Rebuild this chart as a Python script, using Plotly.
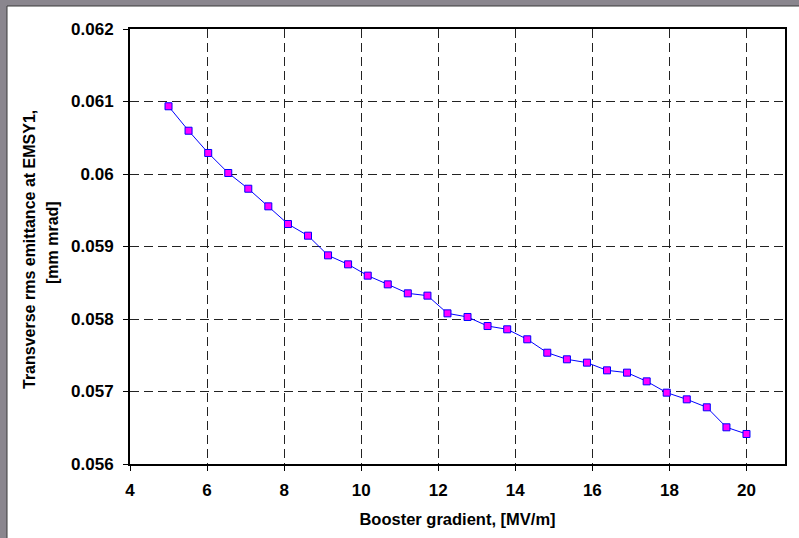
import plotly.graph_objects as go

gradient = [5.0, 5.52, 6.03, 6.55, 7.07, 7.59, 8.10, 8.62, 9.14, 9.66,
            10.17, 10.69, 11.21, 11.72, 12.24, 12.76, 13.28, 13.79, 14.31, 14.83,
            15.34, 15.86, 16.38, 16.90, 17.41, 17.93, 18.45, 18.97, 19.48, 20.0]
emittance = [0.060934, 0.060597, 0.060290, 0.060014, 0.059797, 0.059554, 0.059310, 0.059149, 0.058878, 0.058754,
             0.058598, 0.058478, 0.058354, 0.058322, 0.058078, 0.058028, 0.057903, 0.057858, 0.057720, 0.057535,
             0.057444, 0.057398, 0.057292, 0.057260, 0.057140, 0.056984, 0.056892, 0.056782, 0.056506, 0.056414]

x_ticks = [4, 6, 8, 10, 12, 14, 16, 18, 20]
y_ticks = [0.056, 0.057, 0.058, 0.059, 0.060, 0.061, 0.062]
y_tick_text = ["0.056", "0.057", "0.058", "0.059", "0.06", "0.061", "0.062"]

FONT = "Liberation Sans, Arial, sans-serif"

fig = go.Figure()
fig.add_trace(go.Scatter(
    x=gradient, y=emittance, mode="lines+markers",
    line=dict(color="#0000ff", width=1),
    marker=dict(symbol="square", size=7, color="#ff00ff",
                line=dict(color="#0000ff", width=1)),
    showlegend=False,
))

W, H = 799, 538
L, R, T, B = 130, 14, 29, 74
pw, ph = W - L - R, H - T - B

def px_x(p):
    return (p - L) / pw

def px_y(p):
    return (H - B - p) / ph

fig.add_shape(type="rect", xref="paper", yref="paper",
              x0=px_x(7), x1=px_x(W + 5), y0=px_y(6), y1=px_y(H + 5),
              fillcolor="white", line=dict(color="#3a3a3a", width=1), layer="below")

fig.update_layout(
    width=W, height=H,
    margin=dict(l=L, r=R, t=T, b=B, autoexpand=False),
    paper_bgcolor="#8a868e",
    plot_bgcolor="white",
    font=dict(family=FONT, color="black"),
)
fig.update_xaxes(
    range=[4, 21], tickvals=x_ticks, ticktext=[str(v) for v in x_ticks],
    showline=True, linecolor="black", linewidth=2, mirror=True,
    ticks="outside", ticklen=5, tickcolor="black", tickwidth=1,
    showgrid=True, gridcolor="#222222", gridwidth=1, griddash="9px,5px",
    zeroline=False, automargin=False,
    tickfont=dict(size=17, family=FONT, weight="bold"),
    ticklabelstandoff=5,
    title=dict(text="<b>Booster gradient, [MV/m]</b>", font=dict(size=16.5, family=FONT), standoff=14),
)
fig.update_yaxes(
    range=[0.056, 0.062], tickvals=y_ticks, ticktext=y_tick_text,
    showline=True, linecolor="black", linewidth=2, mirror=True,
    ticks="outside", ticklen=5, tickcolor="black", tickwidth=1,
    showgrid=True, gridcolor="#222222", gridwidth=1, griddash="9px,5px",
    zeroline=False, automargin=False,
    tickfont=dict(size=17, family=FONT, weight="bold"),
    ticklabelstandoff=6,
)
fig.add_annotation(text="<b>Transverse rms emittance at EMSY1,</b>", xref="paper", yref="paper",
                   x=px_x(29), y=px_y(250), textangle=-90, showarrow=False,
                   font=dict(size=16, family=FONT), xanchor="center", yanchor="middle")
fig.add_annotation(text="<b>[mm mrad]</b>", xref="paper", yref="paper",
                   x=px_x(52), y=px_y(243), textangle=-90, showarrow=False,
                   font=dict(size=16, family=FONT), xanchor="center", yanchor="middle")

fig.write_html("out.html")
